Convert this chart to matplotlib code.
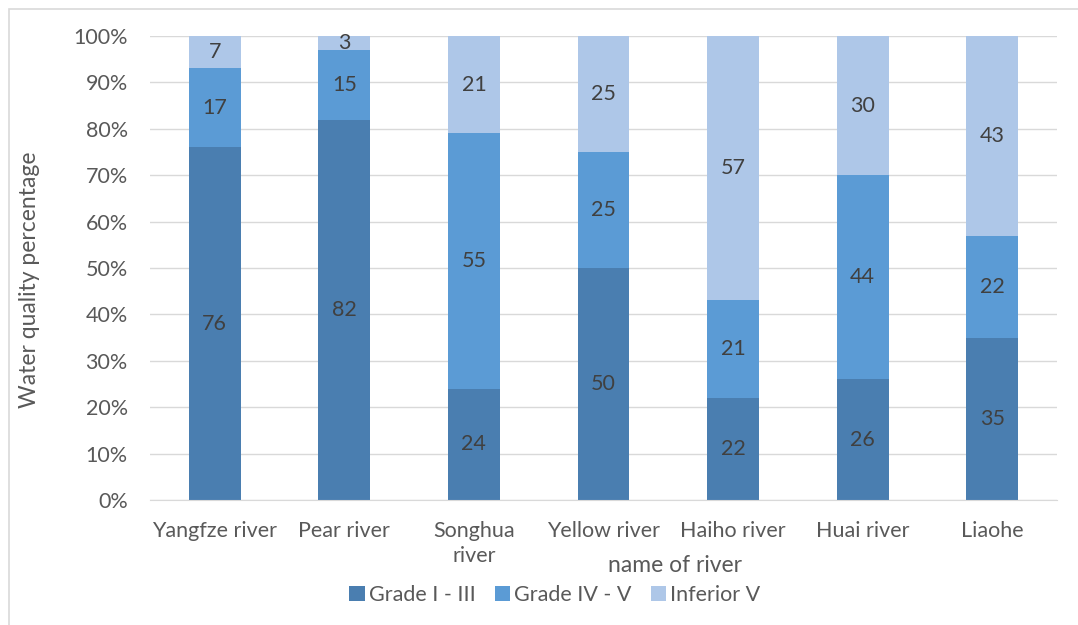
import numpy as np
import matplotlib.pyplot as plt
from matplotlib.patches import Rectangle

rivers = ['Yangfze river', 'Pear river', 'Songhua\nriver', 'Yellow river',
          'Haiho river', 'Huai river', 'Liaohe']
grade_1_3 = [76, 82, 24, 50, 22, 26, 35]
grade_4_5 = [17, 15, 55, 25, 21, 44, 22]
inferior_5 = [7, 3, 21, 25, 57, 30, 43]
series_names = ['Grade I - III', 'Grade IV - V', 'Inferior V']
colors = ['#4a7eb0', '#5b9bd5', '#aec7e8']

plt.rcParams['font.family'] = ['Lato', 'DejaVu Sans']
txt = '#595959'
fs = 15.5

fig = plt.figure(figsize=(10.78, 6.25), dpi=100)
ax = fig.add_axes([150/1078, 1 - 500/625, 907/1078, 464/625])

x = np.arange(len(rivers))
bottom = np.zeros(len(rivers))
for vals, name, c in zip([grade_1_3, grade_4_5, inferior_5], series_names, colors):
    vals = np.array(vals)
    ax.bar(x, vals, 0.4, bottom=bottom, color=c, label=name, zorder=2)
    for xi, b, v in zip(x, bottom, vals):
        ax.text(xi, b + v / 2, str(v), ha='center', va='center',
                fontsize=fs, color='#404040', zorder=3)
    bottom = bottom + vals

ax.set_xlim(-0.5, len(rivers) - 0.5)
ax.set_ylim(0, 100)
ax.set_yticks(range(0, 101, 10))
ax.set_yticklabels([f'{v}%' for v in range(0, 101, 10)])
ax.set_xticks(x)
ax.set_xticklabels(rivers, va='top', linespacing=1.3)
ax.tick_params(axis='both', length=0, labelsize=fs, colors=txt)
ax.tick_params(axis='x', pad=15)
ax.tick_params(axis='y', pad=16)
ax.grid(axis='y', color='#d9d9d9', linewidth=1, zorder=0)
for s in ['top', 'right', 'left']:
    ax.spines[s].set_visible(False)
ax.spines['bottom'].set_color('#d9d9d9')

fig.text(30/1078, 1 - 280/625, 'Water quality percentage', rotation=90,
         ha='center', va='center', fontsize=16.5, color=txt)
fig.text(675/1078, 1 - 565/625, 'name of river', ha='center', va='center',
         fontsize=16.5, color=txt)
ax.legend(loc='center', bbox_to_anchor=(555/1078, 1 - 595/625),
          bbox_transform=fig.transFigure, ncol=3, frameon=False,
          fontsize=fs, labelcolor=txt, handlelength=0.7, handleheight=0.7,
          handletextpad=0.2, columnspacing=0.9)

fig.patches.append(Rectangle((9/1078, -0.1), 1.2, 1 - 9/625 + 0.1,
                             transform=fig.transFigure, fill=False,
                             edgecolor='#d9d9d9', linewidth=1.2))

fig.savefig('out.png', dpi=100)
